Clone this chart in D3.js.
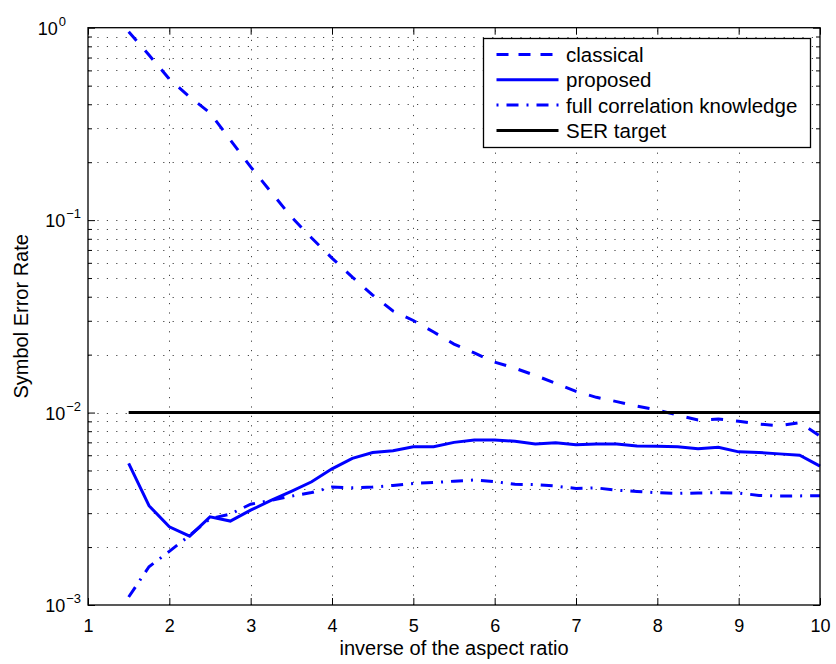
<!DOCTYPE html>
<html>
<head>
<meta charset="utf-8">
<script src="https://cdn.jsdelivr.net/npm/d3@7"></script>
<style>
  body { margin: 0; background: #fff; }
  svg { font-family: "Liberation Sans", Arial, sans-serif; }
</style>
</head>
<body>
<div class="chart"></div>
<script>
/* Data */
const ratio = [1.5, 1.75, 2, 2.25, 2.5, 2.75, 3, 3.25, 3.5, 3.75, 4, 4.25, 4.5, 4.75, 5, 5.25, 5.5, 5.75,
               6, 6.25, 6.5, 6.75, 7, 7.25, 7.5, 7.75, 8, 8.25, 8.5, 8.75, 9, 9.25, 9.5, 9.75, 10];

const classical = [0.953, 0.721, 0.541, 0.437, 0.361, 0.261, 0.189, 0.140, 0.104, 0.0807, 0.0635, 0.0506,
                   0.0408, 0.0337, 0.0301, 0.0262, 0.0227, 0.0204, 0.0183, 0.0170, 0.0156, 0.0142, 0.0129,
                   0.0120, 0.0114, 0.0108, 0.0103, 0.0097, 0.00914, 0.00925, 0.00902, 0.00871, 0.00855,
                   0.00887, 0.00755];

const proposed = [0.00544, 0.00328, 0.00255, 0.00228, 0.00287, 0.00273, 0.00311, 0.0035, 0.0039, 0.00437,
                  0.0051, 0.00578, 0.0062, 0.00633, 0.00664, 0.00664, 0.0070, 0.0072, 0.0072, 0.0071,
                  0.00686, 0.00697, 0.0068, 0.00686, 0.00686, 0.0067, 0.00669, 0.00664, 0.00649, 0.0066,
                  0.00625, 0.0062, 0.0061, 0.0060, 0.00527];

const fullCorr = [0.0011, 0.00158, 0.0019, 0.0023, 0.00281, 0.00297, 0.00334, 0.0035, 0.00368, 0.00384,
                  0.0041, 0.00407, 0.0041, 0.00418, 0.00428, 0.00433, 0.0044, 0.00446, 0.00438, 0.00424,
                  0.00422, 0.00415, 0.00403, 0.00406, 0.00395, 0.00389, 0.00383, 0.0038, 0.00382, 0.00383,
                  0.00382, 0.00371, 0.00368, 0.00369, 0.0037];

const serTarget = 0.01;
const targetRange = [1.5, 10];

const xTicks = [1, 2, 3, 4, 5, 6, 7, 8, 9, 10];
const yTicks = [1e-3, 1e-2, 1e-1, 1];
const yExponents = ["\u22123", "\u22122", "\u22121", "0"];

const legendLabels = ["classical", "proposed", "full correlation knowledge", "SER target"];

/* Dimensions */
const width = 836, height = 664;
const margin = { top: 27.7, right: 16, bottom: 59, left: 88 };

const svg = d3.select(".chart").append("svg")
    .attr("width", width)
    .attr("height", height);

/* Scales */
const xScale = d3.scaleLinear()
    .domain([1, 10])
    .range([margin.left, width - margin.right]);

const yScale = d3.scaleLog()
    .domain([1e-3, 1])
    .range([height - margin.bottom, margin.top]);

const x0 = xScale.range()[0], x1 = xScale.range()[1];
const yB = yScale.range()[0], yT = yScale.range()[1];

// minor log positions 2..9 in each decade
const yMinor = [];
yTicks.slice(0, -1).forEach(d => {
    for (let k = 2; k <= 9; k++) yMinor.push(d * k);
});

/* Grid (dotted, MATLAB style) */
const grid = svg.append("g")
    .attr("stroke", "#444")
    .attr("stroke-width", 1)
    .attr("stroke-dasharray", "1.2,8.2");

grid.selectAll("line.vg")
    .data(xTicks.slice(1, -1))
    .enter().append("line")
    .attr("x1", d => Math.round(xScale(d)) + 0.5)
    .attr("x2", d => Math.round(xScale(d)) + 0.5)
    .attr("y1", yB)
    .attr("y2", yT);

grid.selectAll("line.hg")
    .data(yTicks.slice(1, -1).concat(yMinor))
    .enter().append("line")
    .attr("x1", x0)
    .attr("x2", x1)
    .attr("y1", d => Math.round(yScale(d)) + 0.5)
    .attr("y2", d => Math.round(yScale(d)) + 0.5);

/* Axes: ticks inward on all four sides */
const majorLen = 7, minorLen = 4;

svg.append("g")
    .attr("transform", `translate(0,${yB})`)
    .call(d3.axisBottom(xScale).tickValues(xTicks).tickSizeInner(-majorLen).tickSizeOuter(0).tickPadding(14))
    .call(g => g.select(".domain").remove())
    .call(g => g.selectAll("text").style("font-size", "18px").attr("fill", "#000"));

svg.append("g")
    .attr("transform", `translate(0,${yT})`)
    .call(d3.axisTop(xScale).tickValues(xTicks).tickSizeInner(-majorLen).tickSizeOuter(0).tickFormat(""))
    .call(g => g.select(".domain").remove());

svg.append("g")
    .attr("transform", `translate(${x0},0)`)
    .call(d3.axisLeft(yScale).tickValues(yTicks).tickSizeInner(-majorLen).tickSizeOuter(0).tickFormat(""))
    .call(g => g.select(".domain").remove());

svg.append("g")
    .attr("transform", `translate(${x0},0)`)
    .call(d3.axisLeft(yScale).tickValues(yMinor).tickSizeInner(-minorLen).tickSizeOuter(0).tickFormat(""))
    .call(g => g.select(".domain").remove());

svg.append("g")
    .attr("transform", `translate(${x1},0)`)
    .call(d3.axisRight(yScale).tickValues(yTicks).tickSizeInner(-majorLen).tickSizeOuter(0).tickFormat(""))
    .call(g => g.select(".domain").remove());

svg.append("g")
    .attr("transform", `translate(${x1},0)`)
    .call(d3.axisRight(yScale).tickValues(yMinor).tickSizeInner(-minorLen).tickSizeOuter(0).tickFormat(""))
    .call(g => g.select(".domain").remove());

// y tick labels 10^k (the top one sits further left, as in the original)
const yLab = svg.append("g");
yTicks.forEach((d, i) => {
    const t = yLab.append("text")
        .attr("x", d === 1 ? x0 - 22 : x0 - 7)
        .attr("y", yScale(d) + 7)
        .attr("text-anchor", "end")
        .style("font-size", "18px");
    t.append("tspan").text("10");
    t.append("tspan")
        .attr("dy", -9)
        .attr("dx", 1)
        .style("font-size", "13px")
        .text(yExponents[i]);
});

/* Lines */
const lineGen = vals => d3.line()
    .x((d, i) => xScale(ratio[i]))
    .y(d => yScale(d))(vals);

svg.append("path")
    .attr("d", lineGen(classical))
    .attr("fill", "none")
    .attr("stroke", "#0000ff")
    .attr("stroke-width", 3)
    .attr("stroke-dasharray", "12,13");

svg.append("path")
    .attr("d", lineGen(proposed))
    .attr("fill", "none")
    .attr("stroke", "#0000ff")
    .attr("stroke-width", 3);

svg.append("path")
    .attr("d", lineGen(fullCorr))
    .attr("fill", "none")
    .attr("stroke", "#0000ff")
    .attr("stroke-width", 3)
    .attr("stroke-dasharray", "12,8,2,8");

svg.append("line")
    .attr("x1", xScale(targetRange[0]))
    .attr("x2", xScale(targetRange[1]))
    .attr("y1", yScale(serTarget))
    .attr("y2", yScale(serTarget))
    .attr("stroke", "#000")
    .attr("stroke-width", 3);

/* Box */
svg.append("rect")
    .attr("x", x0)
    .attr("y", yT)
    .attr("width", x1 - x0)
    .attr("height", yB - yT)
    .attr("fill", "none")
    .attr("stroke", "#000")
    .attr("stroke-width", 1.3);

/* Labels */
svg.append("text")
    .attr("x", (x0 + x1) / 2)
    .attr("y", 655)
    .attr("text-anchor", "middle")
    .style("font-size", "20px")
    .text("inverse of the aspect ratio");

svg.append("text")
    .attr("transform", `translate(28,${(yT + yB) / 2}) rotate(-90)`)
    .attr("text-anchor", "middle")
    .style("font-size", "20px")
    .text("Symbol Error Rate");

/* Legend */
const legend = svg.append("g");
legend.append("rect")
    .attr("x", 483.5)
    .attr("y", 38.5)
    .attr("width", 327)
    .attr("height", 109)
    .attr("fill", "#fff")
    .attr("stroke", "#000")
    .attr("stroke-width", 1.3);

const legStyles = [
    { color: "#0000ff", dash: "12,10" },
    { color: "#0000ff", dash: null },
    { color: "#0000ff", dash: "2,8,12,8" },
    { color: "#000", dash: null }
];

legendLabels.forEach((label, i) => {
    const y = 54.5 + i * 25.3;
    const l = legend.append("line")
        .attr("x1", 496.5)
        .attr("x2", 558.5)
        .attr("y1", y)
        .attr("y2", y)
        .attr("stroke", legStyles[i].color)
        .attr("stroke-width", 3);
    if (legStyles[i].dash) l.attr("stroke-dasharray", legStyles[i].dash);
    legend.append("text")
        .attr("x", 566)
        .attr("y", y + 7.5)
        .style("font-size", "20.5px")
        .text(label);
});
</script>
</body>
</html>
